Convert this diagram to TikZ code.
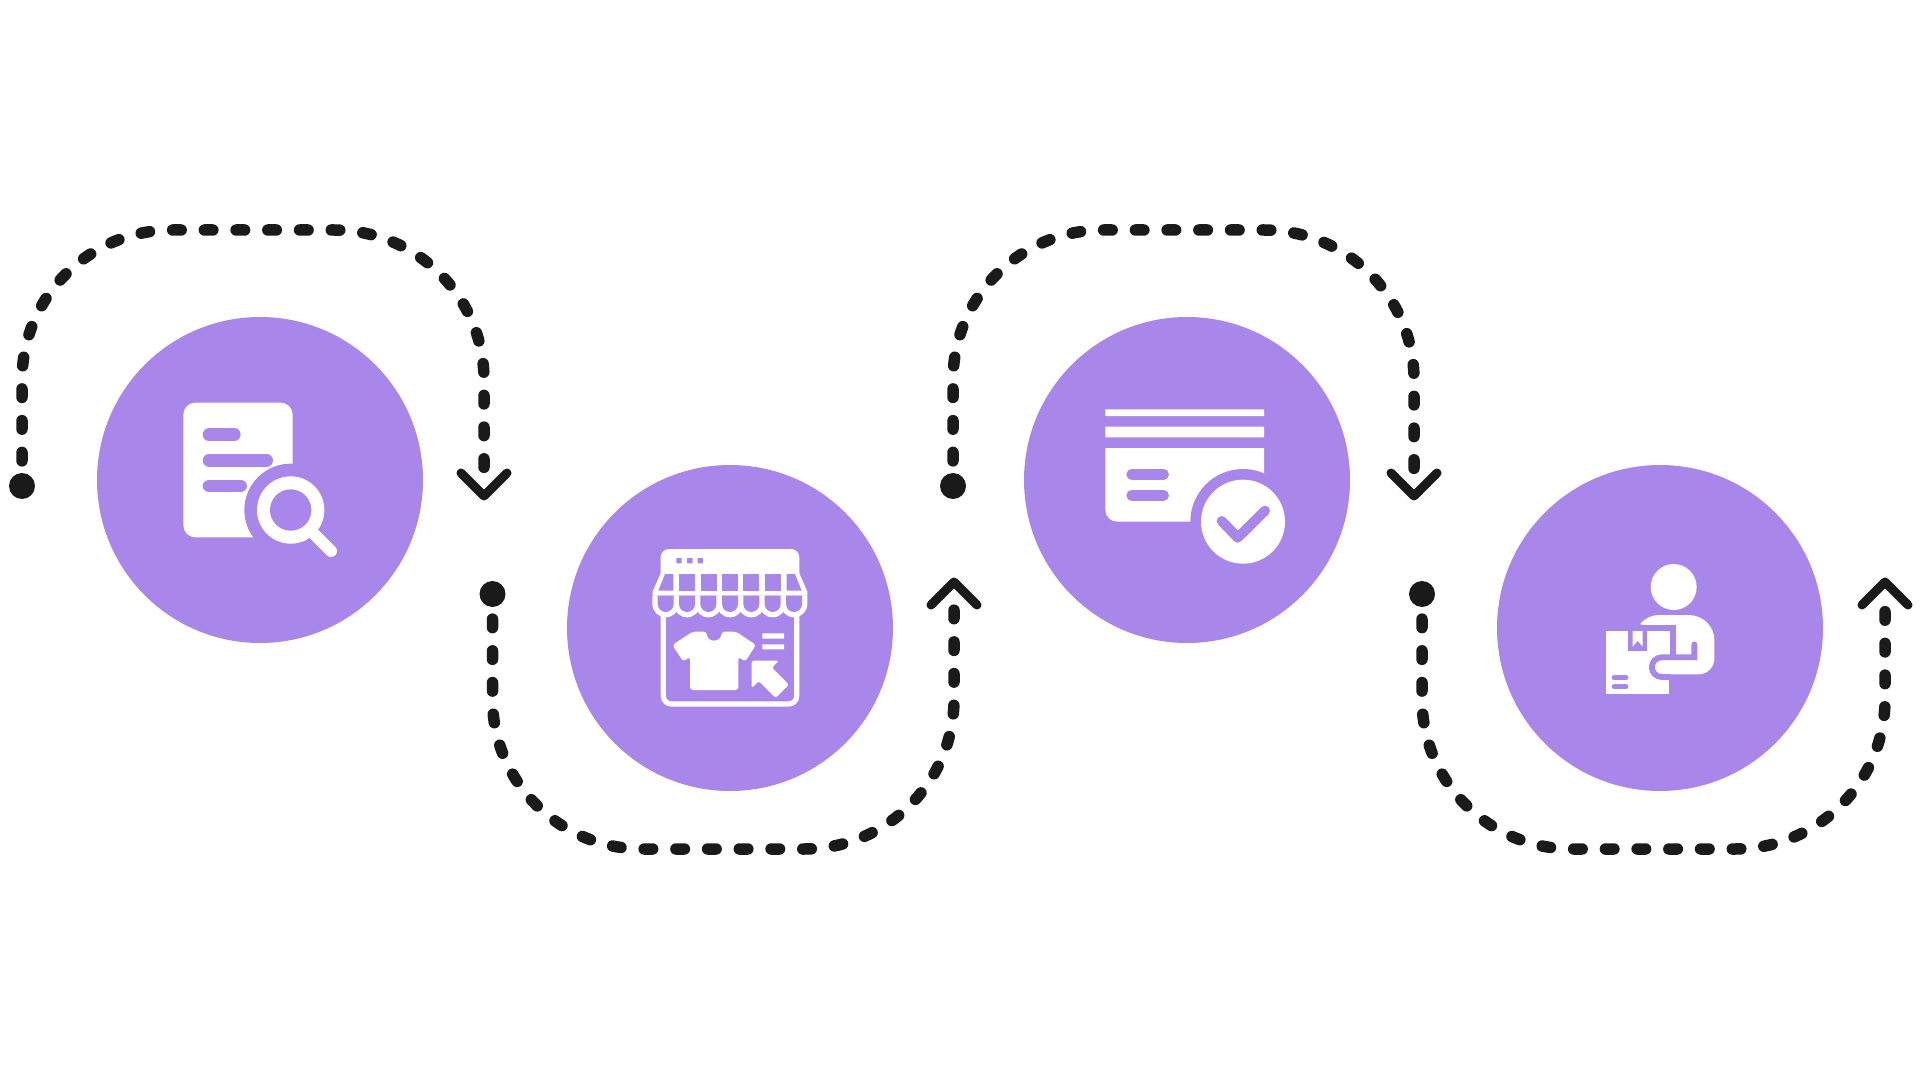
\documentclass[tikz,border=0pt]{standalone}
\usetikzlibrary{positioning}
\definecolor{bubble}{HTML}{A986E9}
\definecolor{inkdark}{HTML}{1A1A1A}

\begin{document}
\begin{tikzpicture}[
  x=0.5pt, y=-0.5pt,
  hub/.style={circle, fill=bubble, minimum size=163pt, inner sep=0pt},
  dot/.style={circle, fill=inkdark, minimum size=13pt, inner sep=0pt},
  flow/.style={inkdark, line width=5.75pt, line cap=round, rounded corners=75pt,
    dash pattern=on 4.25pt off 11.61pt, dash phase=10pt},
  chevron/.style={inkdark, line width=4.5pt, line cap=round, line join=round},
  pill/.style={bubble, line cap=round},
]
\useasboundingbox (0,0) rectangle (1920,1080);

% === Circles ===
\node[hub] (search) at (260,480) {};
\node[hub, on grid, below right=74pt and 235pt of search] (store) {};
\node[hub, on grid, above right=74pt and 228.5pt of store] (check) {};
\node[hub, on grid, below right=74pt and 236.5pt of check] (deliver) {};

% === Dotted connectors ===
\node[dot] (searchdot) at (22,486) {};
\node[dot] (storedot) at (492.5,594) {};
\node[dot] (checkdot) at (953,486) {};
\node[dot] (deliverdot) at (1422,594) {};
\coordinate (searchlast) at (484,470);
\coordinate (storelast) at (954,608);
\coordinate (checklast) at (1414,470);
\coordinate (deliverlast) at (1885,608);
\coordinate (searchend) at (484,496);
\coordinate (storeend) at (954,582);
\coordinate (checkend) at (1414,496);
\coordinate (deliverend) at (1885,582);

\draw[flow] (searchdot.north) -- (22,230) -- (484,230) -- (searchlast);
\draw[flow] (storedot.south) -- (492.5,849) -- (954,849) -- (storelast);
\draw[flow] (checkdot.north) -- (953,230) -- (1414,230) -- (checklast);
\draw[flow] (deliverdot.south) -- (1422,849) -- (1885,849) -- (deliverlast);

\draw[chevron] (searchend) ++(-23,-23) -- (searchend) -- ++(23,-23);
\draw[chevron] (storeend) ++(-23,23) -- (storeend) -- ++(23,23);
\draw[chevron] (checkend) ++(-23,-23) -- (checkend) -- ++(23,-23);
\draw[chevron] (deliverend) ++(-23,23) -- (deliverend) -- ++(23,23);

% === Icon: document with magnifier ===
\begin{scope}[shift={(150,370)}, x=0.16667pt, y=-0.16667pt]
  \fill[white, rounded corners=6pt] (100,98) rectangle (428,502);
  \draw[pill, line width=6.3pt] (177,194) -- (253,194);
  \draw[pill, line width=6.3pt] (177,271) -- (350,271);
  \draw[pill, line width=6.3pt] (177,348) -- (272,348);
  \fill[bubble] (422,420) circle (139);
  \draw[white, line width=6pt, line cap=round] (495,495) -- (543,543);
  \fill[white] (422,420) circle (101);
  \fill[bubble] (422,420) circle (62);
\end{scope}

% === Icon: shop front ===
\begin{scope}[shift={(630,530)}, x=0.16667pt, y=-0.16667pt]
  \draw[white, line width=2.6pt, rounded corners=4pt] (100,230) -- (100,522) -- (500,522) -- (500,230);
  \fill[white] (92,135) -- (92,82) .. controls (92,68) and (103,57) .. (117,57) -- (483,57)
    .. controls (497,57) and (508,68) .. (508,82) -- (508,135) -- cycle;
  \fill[white] (92,130) -- (68,185) -- (68,197) -- (532,197) -- (532,185) -- (508,130) -- cycle;
  \fill[bubble] (139,84) rectangle (155,100) (171,84) rectangle (188,100) (203,84) rectangle (219,100);
  \fill[bubble] (105,132) -- (130,132) -- (130,182) -- (85,182) -- cycle;
  \fill[bubble] (470,132) -- (495,132) -- (515,182) -- (470,182) -- cycle;
  \foreach \cellx in {147,212,276,340,405} {
    \fill[bubble] (\cellx,132) rectangle ++(48,50);
  }
  \foreach \cellx in {107,171,235,300,364,428,492} {
    \fill[white] ({\cellx-40},197) -- ++(0,25) arc (180:0:40) -- ++(0,-25) -- cycle;
  }
  \foreach \cellx in {107,171,235,300,364,428,492} {
    \fill[bubble] ({\cellx-24},197) -- ++(0,25) arc (180:0:24) -- ++(0,-25) -- cycle;
  }
  % shirt
  \fill[white, rounded corners=1.5pt] (127,345) -- (188,305) -- (230,305)
    .. controls (232,338) and (272,338) .. (275,305)
    -- (318,305) -- (378,345) -- (345,395) -- (325,380) -- (325,480) -- (180,480) -- (180,380) -- (160,395) -- cycle;
  \fill[white] (397,310) rectangle (462,326) (397,343) rectangle (462,358);
  % cursor
  \fill[white, rounded corners=1.2pt] (365,392) -- (447,392) -- (426,413) -- (477,464) -- (437,504) -- (386,453) -- (365,475) -- cycle;
\end{scope}

% === Icon: card with check mark ===
\begin{scope}[shift={(1085,390)}, x=0.16667pt, y=-0.16667pt]
  \fill[white] (61,58) rectangle (537,78) (61,110) rectangle (537,142);
  \fill[white] (61,174) -- (537,174) -- (537,395) -- (96,395) .. controls (77,395) and (61,379) .. (61,360) -- cycle;
  \draw[pill, line width=5.3pt] (140,253) -- (236,253);
  \draw[pill, line width=5.3pt] (140,316) -- (236,316);
  \fill[bubble] (474,395) circle (158);
  \fill[white] (474,395) circle (126);
  \draw[pill, line width=5pt, line join=round] (410,393) -- (458,443) -- (540,362);
\end{scope}

% === Icon: person with parcel ===
\begin{scope}[shift={(1590,550)}, x=0.16667pt, y=-0.16667pt]
  \fill[white] (251,111) circle (69);
  \fill[white] (150,222) .. controls (165,205) and (185,195) .. (205,195) -- (295,195)
    .. controls (340,195) and (373,230) .. (373,270) -- (373,325)
    .. controls (373,352) and (352,373) .. (325,373) -- (215,373) -- (215,330) -- (200,240) -- cycle;
  \fill[white] (48,243) rectangle (238,432);
  \draw[bubble, line width=3pt] (140,234) -- (248,234) -- (248,322);
  \draw[bubble, line width=2.9pt, line cap=round] (313,283) -- (313,322) -- (215,322)
    arc (-90:-270:29.5) -- (238,381);
  \fill[bubble] (113,243) rectangle (172,303);
  \fill[white] (128,243) -- (158,243) -- (158,290) -- (143,272) -- (128,290) -- cycle;
  \draw[pill, line width=2.4pt] (72,383) -- (108,383);
  \draw[pill, line width=2.4pt] (72,410) -- (108,410);
\end{scope}

\end{tikzpicture}
\end{document}
